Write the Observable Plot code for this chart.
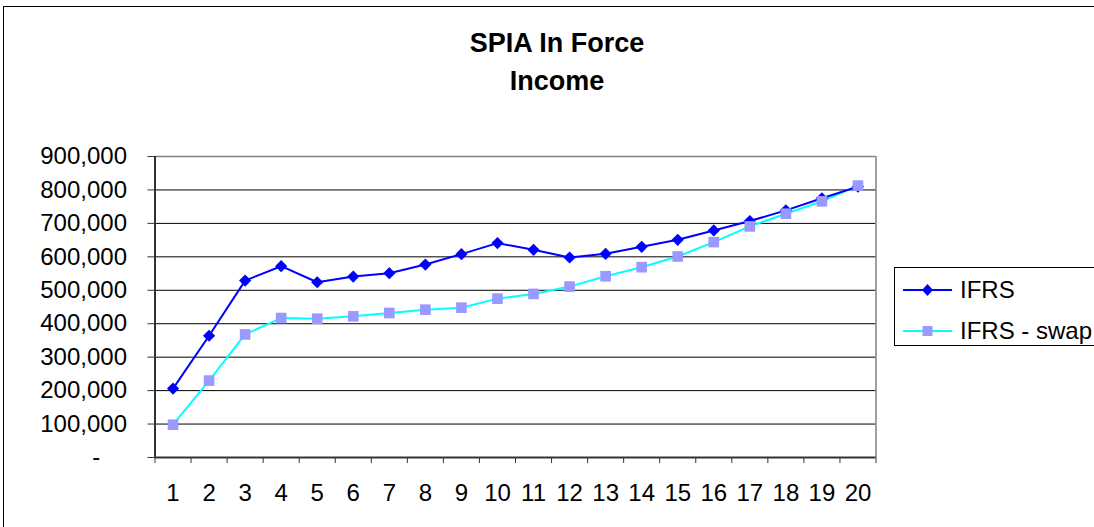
<!DOCTYPE html>
<html>
<head>
<meta charset="utf-8">
<script src="https://cdn.jsdelivr.net/npm/d3@7"></script>
<script src="https://cdn.jsdelivr.net/npm/@observablehq/plot@0.6"></script>
<style>
  html, body { margin: 0; padding: 0; background: #fff; overflow: hidden; }
  #wrap { position: relative; width: 1094px; height: 527px; overflow: hidden; font-family: "Liberation Sans", Arial, sans-serif; }
  #outer { position: absolute; left: 3px; top: 6px; width: 1200px; height: 700px; border: 1.5px solid #000; }
  #title { position: absolute; left: 0; width: 1114px; top: 24px; text-align: center; font-weight: bold; font-size: 27px; line-height: 38px; color: #000; }
  #chart { position: absolute; left: 0; top: 0; }
  #legend { position: absolute; left: 894px; top: 267px; width: 260px; height: 77px; border: 1px solid #000; background: #fff; }
  .item { position: absolute; left: 0; height: 30px; font-size: 24px; color: #000; }
  .item svg { position: absolute; left: 8px; top: 0; }
  .item span { position: absolute; left: 65px; top: 2px; white-space: nowrap; line-height: 26px; }
</style>
</head>
<body>
<div id="wrap">
  <div id="outer"></div>
  <div id="title">SPIA In Force<br>Income</div>
  <div id="chart"></div>
  <div id="legend"></div>
</div>
<script>
const periods = d3.range(1, 21);
const seriesNames = ["IFRS", "IFRS - swap"];
const ifrsValues = [206000, 364000, 529000, 572000, 524000, 541000, 551000, 577000, 608000, 641000,
                    621000, 598000, 609000, 630000, 651000, 679000, 707000, 739000, 775000, 810000];
const swapValues = [98000, 230000, 368000, 417000, 415000, 422000, 432000, 442000, 448000, 475000,
                    489000, 511000, 542000, 569000, 601000, 644000, 691000, 729000, 766000, 813000];
const yTicks = [0, 100000, 200000, 300000, 400000, 500000, 600000, 700000, 800000, 900000];

const ifrs = periods.map((p, i) => ({period: p, value: ifrsValues[i]}));
const swap = periods.map((p, i) => ({period: p, value: swapValues[i]}));
const boundaries = d3.range(0.5, 21, 1);
const fmt = d3.format(",");
const yFormat = d => d === 0 ? "-\u00a0\u00a0\u00a0\u00a0" : fmt(d);

const chart = Plot.plot({
  width: 1094,
  height: 527,
  marginLeft: 154.5,
  marginRight: 218.5,
  marginTop: 156,
  marginBottom: 70,
  style: {background: "transparent", fontFamily: "'Liberation Sans', Arial, sans-serif", color: "#000", overflow: "visible"},
  x: {domain: [0.5, 20.5]},
  y: {domain: [0, 900000]},
  marks: [
    Plot.ruleY(yTicks.filter(d => d > 0 && d < 900000), {stroke: "#000", strokeWidth: 1}),
    Plot.ruleY([900000], {stroke: "#808080", strokeWidth: 1.5}),
    Plot.ruleX([20.5], {stroke: "#808080", strokeWidth: 1.5}),
    Plot.ruleY([0], {stroke: "#333", strokeWidth: 2}),
    Plot.ruleX([0.5], {stroke: "#333", strokeWidth: 2}),
    Plot.axisY({ticks: yTicks, tickSize: 7, tickPadding: 21, tickFormat: yFormat, fontSize: 24, stroke: "#333", label: null}),
    Plot.axisX({ticks: boundaries, tickSize: 6, tickFormat: () => "", stroke: "#333", label: null}),
    Plot.axisX({ticks: periods, tickSize: 0, tickPadding: 26, tickFormat: d => String(d), fontSize: 24, label: null}),
    Plot.line(swap, {x: "period", y: "value", stroke: "#00ffff", strokeWidth: 2}),
    Plot.line(ifrs, {x: "period", y: "value", stroke: "#0000ff", strokeWidth: 2}),
    Plot.dot(ifrs, {x: "period", y: "value", symbol: "diamond2", r: 5.5, fill: "#0000ff", stroke: "none"}),
    Plot.dot(swap, {x: "period", y: "value", symbol: "square", r: 6, fill: "#9999ff", stroke: "none"})
  ]
});
document.getElementById("chart").appendChild(chart);

// legend
const legend = document.getElementById("legend");
const legendSpecs = [
  {name: seriesNames[0], stroke: "#0000ff", fill: "#0000ff", shape: "diamond", top: 7},
  {name: seriesNames[1], stroke: "#00ffff", fill: "#9999ff", shape: "square", top: 48}
];
legendSpecs.forEach(s => {
  const item = document.createElement("div");
  item.className = "item";
  item.style.top = s.top + "px";
  const marker = s.shape === "diamond"
    ? `<path d="M24.5,9 L30,15 L24.5,21 L19,15 Z" fill="${s.fill}"/>`
    : `<rect x="19.5" y="10" width="10" height="10" fill="${s.fill}"/>`;
  item.innerHTML = `<svg width="50" height="30"><line x1="0" x2="49" y1="15" y2="15" stroke="${s.stroke}" stroke-width="2"/>${marker}</svg><span>${s.name}</span>`;
  legend.appendChild(item);
});
</script>
</body>
</html>
